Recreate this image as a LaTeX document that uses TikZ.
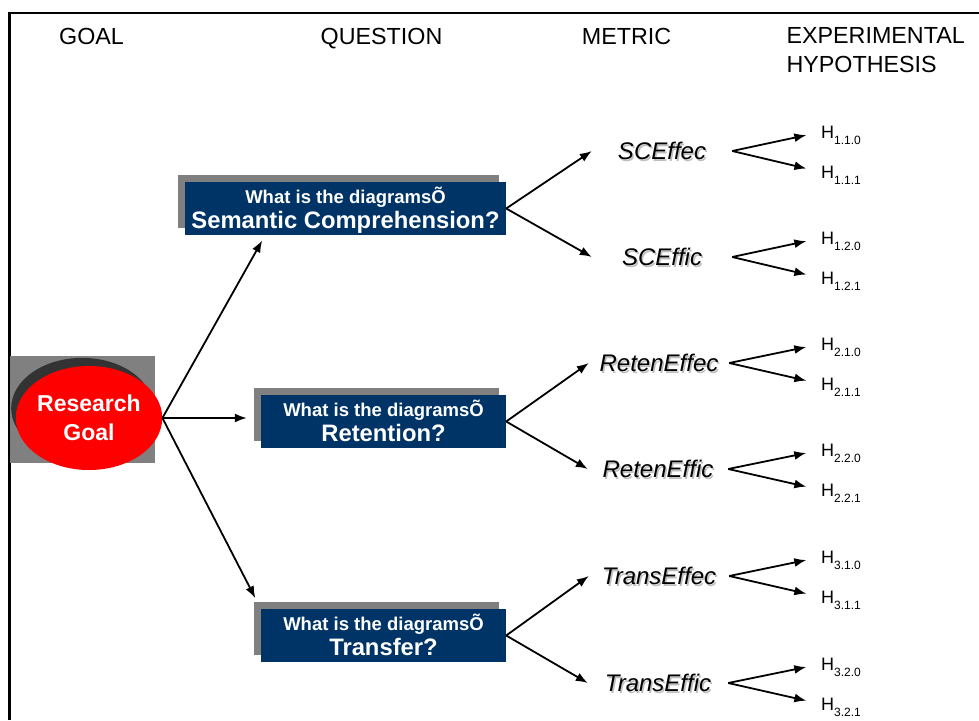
\documentclass[tikz,border=0pt]{standalone}
\usepackage{fontspec}
\setmainfont{Liberation Sans}
\usepackage{xcolor}
\usepackage{tikz}
\usetikzlibrary{arrows.meta,shapes.geometric,shadows,calc}
\definecolor{qblue}{RGB}{0,51,102}
\newcommand{\hsub}[1]{H\raisebox{-5.5pt}{\fontsize{12}{12}\selectfont #1}}
\newcommand{\mtext}[1]{\makebox[0pt][l]{\hspace{1.5pt}\raisebox{-1.5pt}{\color{black!25}#1}}#1}
\newcommand{\qtext}[1]{\rule{0pt}{20pt}What is the diagramsÕ\\{\fontsize{23.8}{25}\selectfont #1\rule[-6pt]{0pt}{6pt}}}

\begin{document}
\begin{tikzpicture}[x=1pt,y=-1pt,
  arr/.style={line width=1.8pt,-{Latex[length=12pt,width=9pt]}},
  quest/.style={fill=qblue,text=white,font=\fontsize{18.5}{25}\selectfont\bfseries,align=center,inner sep=0pt,
    minimum height=53pt,general shadow={fill=gray,shadow xshift=-7pt,shadow yshift=7pt}},
  metric/.style={font=\fontsize{24}{28}\selectfont\itshape,minimum width=140pt,inner sep=0pt,text height=17pt,text depth=0pt},
  hyp/.style={font=\fontsize{18}{20}\selectfont,anchor=west,inner sep=0pt,text height=13pt,text depth=0pt},
  head/.style={font=\fontsize{23.3}{29}\selectfont,anchor=base}]
\useasboundingbox (0,0) rectangle (979,720);
\draw[line width=2.3pt] (9.5,720) -- (9.5,13) -- (979,13);
% column titles
\node[head] (goalh) at (91.5,44.5) {GOAL};
\node[head] (questh) at (381.5,44.5) {QUESTION};
\node[head] (metrich) at (626.5,44.5) {METRIC};
\node[head,anchor=west,align=left] (hyph) at (783,50.5) {EXPERIMENTAL\\HYPOTHESIS};
% goal
\fill[gray] (10,356) rectangle (155,463);
\node[ellipse,fill=red,minimum width=146pt,minimum height=104pt,inner sep=0pt,text=white,align=center,
  font=\fontsize{23}{29}\selectfont\bfseries,
  general shadow={fill=black!80,shadow xshift=-7pt,shadow yshift=10pt,shadow scale=0.97}] (goal) at (89,418) {Research\\Goal};
% questions
\node[quest,minimum width=321pt] (q1) at (345.5,208.5) {\qtext{Semantic Comprehension?}};
\node[quest,minimum width=245pt] (q2) at (383.5,421.5) {\qtext{Retention?}};
\node[quest,minimum width=245pt] (q3) at (383.5,635.5) {\qtext{Transfer?}};
\draw[arr,shorten >=6pt] (goal.east) -- ($(q1.south west)!0.25!(q1.south east)$);
\draw[arr,shorten >=14pt] (goal.east) -- (goal.east -| q2.west);
\draw[arr,shorten >=12pt] (goal.east) -- (q3.north west);
% metrics
\node[metric] (m11) at (662,151) {\mtext{SCEffec}};
\node[metric] (m12) at (662,257) {\mtext{SCEffic}};
\node[metric] (m21) at (659,363) {\mtext{RetenEffec}};
\node[metric] (m22) at (658,469) {\mtext{RetenEffic}};
\node[metric] (m31) at (659,576) {\mtext{TransEffec}};
\node[metric] (m32) at (658,683) {\mtext{TransEffic}};
\draw[arr] (q1.east) -- (m11.west);
\draw[arr] (q1.east) -- (m12.west);
\draw[arr] (q2.east) -- (m21.west);
\draw[arr] (q2.east) -- (m22.west);
\draw[arr] (q3.east) -- (m31.west);
\draw[arr] (q3.east) -- (m32.west);
% hypotheses
\coordinate (hcol) at (821,0);
\foreach \m/\a/\b in {m11/1/1,m12/1/2,m21/2/1,m22/2/2,m31/3/1,m32/3/2} {
  \node[hyp] (\m0) at ($(\m.east -| hcol)+(0,-19)$) {\hsub{\a.\b.0}};
  \node[hyp] (\m1) at ($(\m.east -| hcol)+(0,21)$) {\hsub{\a.\b.1}};
  \draw[arr,shorten >=15pt] (\m.east) -- (\m0.west);
  \draw[arr,shorten >=15pt] (\m.east) -- (\m1.west);
}
\end{tikzpicture}
\end{document}
